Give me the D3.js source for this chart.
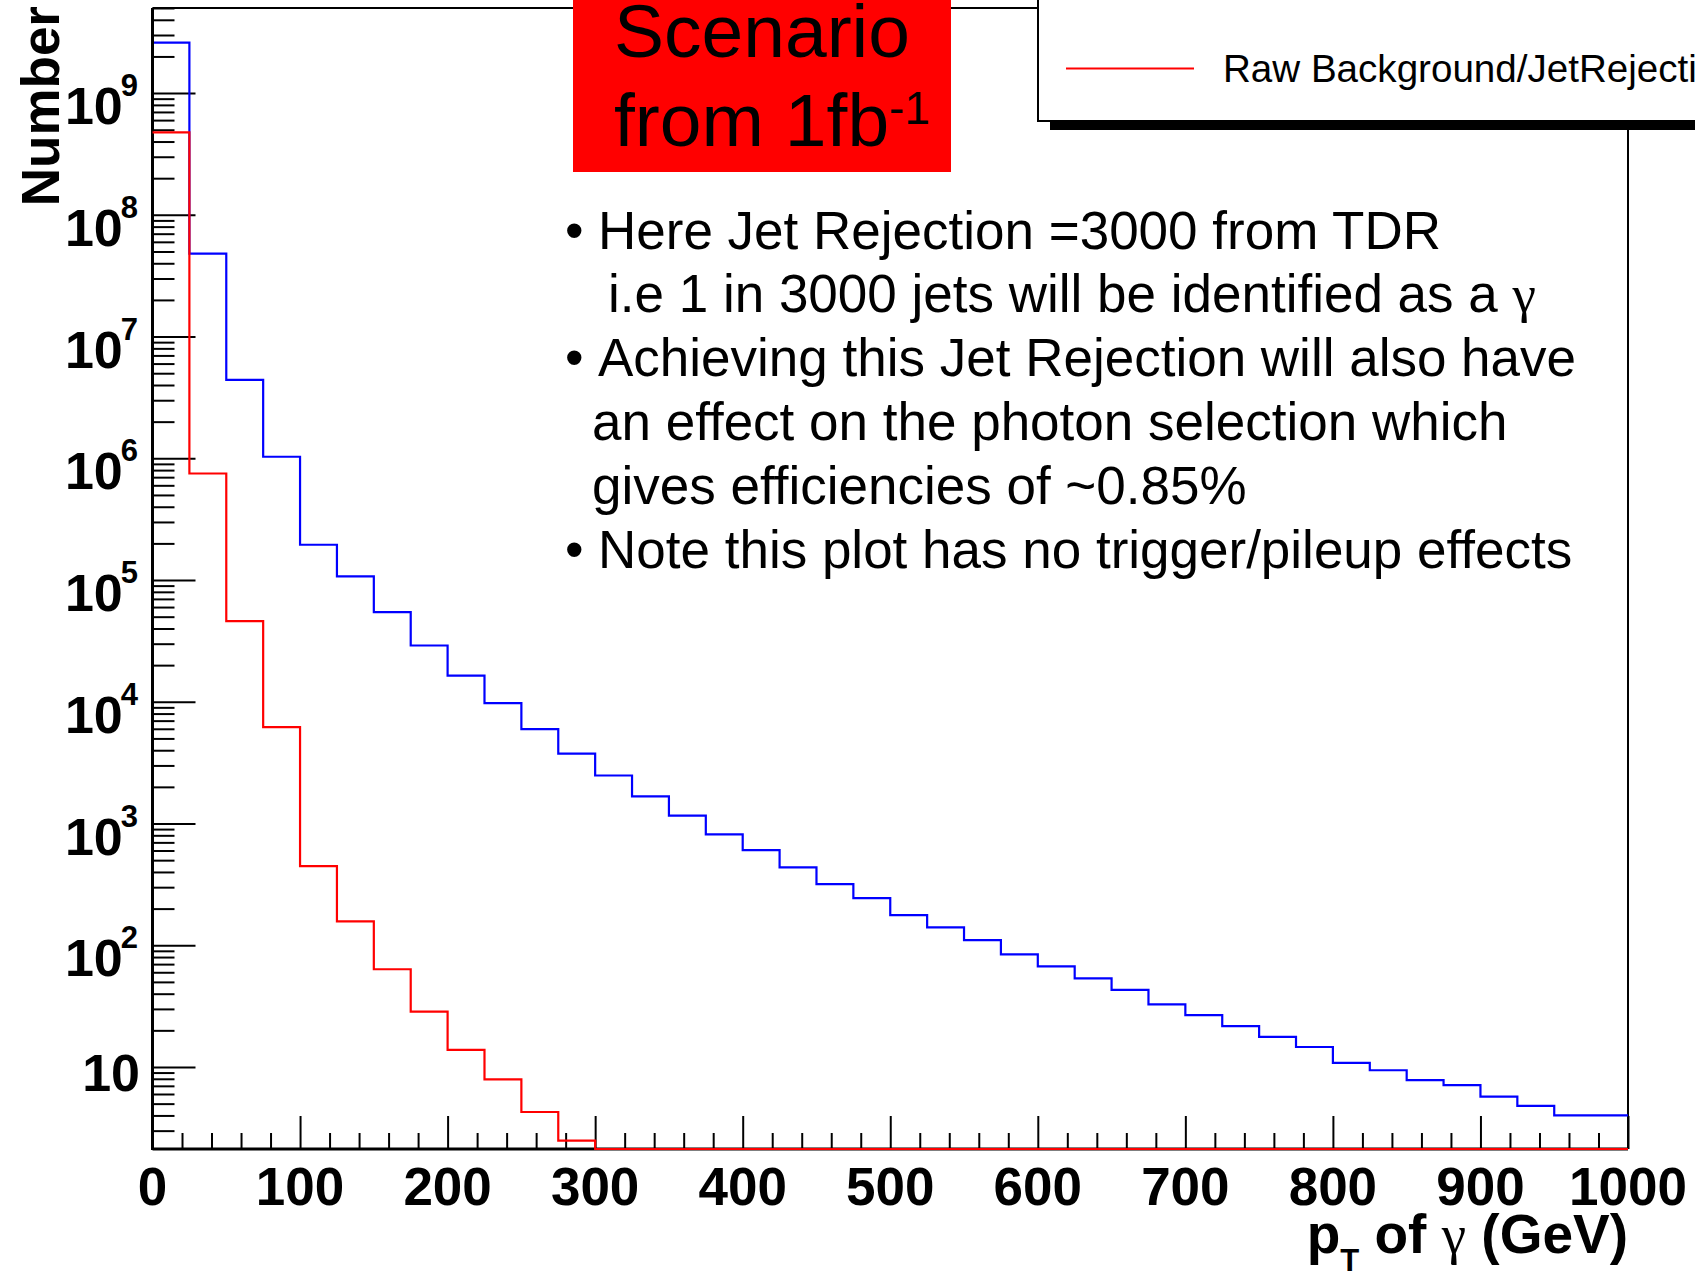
<!DOCTYPE html>
<html>
<head>
<meta charset="utf-8">
<script src="https://cdn.jsdelivr.net/npm/d3@7/dist/d3.min.js"></script>
<style>
  body { margin: 0; background: #fff; }
  svg { display: block; font-family: "Liberation Sans", Arial, Helvetica, sans-serif; }
</style>
</head>
<body>
<svg id="canvas"></svg>
<script>
// bin low edges (GeV), 25 GeV bins
const binLow = [0, 25, 50, 75, 100, 125, 150, 175, 200, 225, 250, 275, 300, 325, 350, 375, 400, 425, 450, 475,
                500, 525, 550, 575, 600, 625, 650, 675, 700, 725, 750, 775, 800, 825, 850, 875, 900, 925, 950, 975]
const binHigh = 1000

// blue histogram
const rawCounts = [2.6e9, 4.8e7, 4.4e6, 1.03e6, 1.95e5, 1.07e5, 5.45e4, 2.9e4, 1.64e4, 9.75e3,
                   5.96e3, 3.75e3, 2.48e3, 1.67e3, 1.16e3, 815, 604, 437, 318, 244,
                   177, 140, 110, 84, 67, 53.5, 43, 32.7, 26.7, 21.7,
                   17.7, 14.6, 10.8, 9.4, 7.8, 7.1, 5.7, 4.8, 4.0, 4.0]

// red histogram: Raw Background/JetRejection
const rejectedCounts = [4.75e8, 7.5e5, 4.6e4, 6.2e3, 446, 157, 63.5, 28.5, 13.8, 7.9,
                        4.27, 2.48, 0, 0, 0, 0, 0, 0, 0, 0,
                        0, 0, 0, 0, 0, 0, 0, 0, 0, 0,
                        0, 0, 0, 0, 0, 0, 0, 0, 0, 0]

const xTickValues = [0, 100, 200, 300, 400, 500, 600, 700, 800, 900, 1000]
const yDecades = [10, 1e2, 1e3, 1e4, 1e5, 1e6, 1e7, 1e8, 1e9]
const yExponents = ['', '2', '3', '4', '5', '6', '7', '8', '9']

const legendLabel = 'Raw Background/JetRejection'
const noteLines = [
  {bullet: true, text: 'Here Jet Rejection =3000 from TDR'},
  {bullet: false, text: 'i.e 1 in 3000 jets will be identified as a ', gamma: true},
  {bullet: true, text: 'Achieving this Jet Rejection will also have'},
  {bullet: false, text: 'an effect on the photon selection which'},
  {bullet: false, text: 'gives efficiencies of ~0.85%'},
  {bullet: true, text: 'Note this plot has no trigger/pileup effects'}
]

const width = 1695
const height = 1275
const frameLeft = 152.5, frameRight = 1628, frameTop = 8, frameBottom = 1149
const yMin = 2.12, yMax = 5.0e9

let canvas = d3.select('#canvas').attr('width', width).attr('height', height)
canvas.append('rect').attr('width', width).attr('height', height).attr('fill', '#fff')

let xScale = d3.scaleLinear().domain([0, 1000]).range([frameLeft, frameRight])
let yScale = d3.scaleLog().domain([yMin, yMax]).range([frameBottom, frameTop])

// frame (top and right thin lines)
canvas.append('path')
  .attr('d', `M${frameLeft},${frameTop}H${frameRight}V${frameBottom}`)
  .attr('fill', 'none').attr('stroke', '#000').attr('stroke-width', 2)

// histograms
let stepLine = d3.line()
  .x(d => xScale(d[0]))
  .y(d => yScale(Math.max(d[1], yMin)))
  .curve(d3.curveStepAfter)

let drawHist = (counts, colour) => {
  let pts = binLow.map((b, i) => [b, counts[i]])
  pts.push([binHigh, counts[counts.length - 1]])
  canvas.append('path')
    .attr('d', stepLine(pts))
    .attr('fill', 'none')
    .attr('stroke', colour)
    .attr('stroke-width', 2.2)
}

// x axis ticks (major every 100, minor every 20)
let xMinor = xTickValues.slice(0, -1).flatMap(v => [20, 40, 60, 80].map(s => v + s))
canvas.append('g')
  .attr('transform', `translate(0,${frameBottom})`)
  .call(d3.axisBottom(xScale).tickValues(xMinor).tickSize(-16).tickFormat(''))
  .call(g => g.select('.domain').remove())
  .call(g => g.selectAll('line').attr('stroke-width', 2))
canvas.append('g')
  .attr('transform', `translate(0,${frameBottom})`)
  .call(d3.axisBottom(xScale).tickValues(xTickValues).tickSize(-33).tickFormat(''))
  .call(g => g.select('.domain').remove())
  .call(g => g.selectAll('line').attr('stroke-width', 2))

canvas.append('g').selectAll('text')
  .data(xTickValues)
  .enter()
  .append('text')
  .attr('x', d => xScale(d))
  .attr('y', 1205)
  .attr('text-anchor', 'middle')
  .attr('font-weight', 'bold')
  .attr('font-size', 53)
  .text(d => d)

// y axis ticks
let yMinor = [1, ...yDecades].flatMap(d => [2, 3, 4, 5, 6, 7, 8, 9].map(m => m * d))
  .filter(v => v >= yMin && v <= yMax)
canvas.append('g')
  .attr('transform', `translate(${frameLeft},0)`)
  .call(d3.axisLeft(yScale).tickValues(yMinor).tickSize(-22).tickFormat(''))
  .call(g => g.select('.domain').remove())
  .call(g => g.selectAll('line').attr('stroke-width', 2))
canvas.append('g')
  .attr('transform', `translate(${frameLeft},0)`)
  .call(d3.axisLeft(yScale).tickValues(yDecades).tickSize(-43).tickFormat(''))
  .call(g => g.select('.domain').remove())
  .call(g => g.selectAll('line').attr('stroke-width', 2))

let yLabels = canvas.append('g').selectAll('text')
  .data(yDecades)
  .enter()
  .append('text')
  .attr('x', (d, i) => i === 0 ? 140 : 138)
  .attr('y', (d, i) => yScale(d) + (i === 0 ? 24 : 31))
  .attr('text-anchor', 'end')
  .attr('font-weight', 'bold')
  .attr('font-size', 52)
yLabels.append('tspan').text('10')
yLabels.filter((d, i) => i > 0)
  .append('tspan')
  .attr('dy', -28)
  .attr('dx', -2)
  .attr('font-size', 31)
  .text(d => yExponents[yDecades.indexOf(d)])

drawHist(rawCounts, '#0000ff')

// axis lines
canvas.append('line')
  .attr('x1', frameLeft).attr('x2', frameLeft).attr('y1', frameTop).attr('y2', frameBottom + 1)
  .attr('stroke', '#000').attr('stroke-width', 3)
canvas.append('line')
  .attr('x1', frameLeft).attr('x2', frameRight).attr('y1', frameBottom).attr('y2', frameBottom)
  .attr('stroke', '#000').attr('stroke-width', 3)

drawHist(rejectedCounts, '#ff0000')

// axis titles
canvas.append('text')
  .attr('transform', 'translate(59,6) rotate(-90)')
  .attr('text-anchor', 'end')
  .attr('font-weight', 'bold')
  .attr('font-size', 53)
  .text('Number')

let xTitle = canvas.append('text')
  .attr('x', frameRight)
  .attr('y', 1253)
  .attr('text-anchor', 'end')
  .attr('font-weight', 'bold')
  .attr('font-size', 55)
xTitle.append('tspan').text('p')
xTitle.append('tspan').attr('font-size', 31).attr('dy', 18).text('T')
xTitle.append('tspan').attr('dy', -18).text(' of ')
xTitle.append('tspan').attr('font-family', '"Liberation Serif", "Times New Roman", serif')
  .attr('font-weight', 'normal').text('γ')
xTitle.append('tspan').text(' (GeV)')

// red scenario box
canvas.append('rect')
  .attr('x', 573).attr('y', 0).attr('width', 378).attr('height', 172)
  .attr('fill', '#ff0000')
canvas.append('text')
  .attr('x', 762).attr('y', 57)
  .attr('text-anchor', 'middle').attr('font-size', 75)
  .text('Scenario')
let fromText = canvas.append('text')
  .attr('x', 614).attr('y', 146)
  .attr('font-size', 75)
fromText.append('tspan').text('from 1fb')
fromText.append('tspan').attr('font-size', 46).attr('dy', -22).text('-1')

// legend
canvas.append('rect')
  .attr('x', 1050).attr('y', 121).attr('width', width - 1050).attr('height', 9)
  .attr('fill', '#000')
canvas.append('rect')
  .attr('x', 1038).attr('y', -2).attr('width', width).attr('height', 123)
  .attr('fill', '#fff').attr('stroke', '#000').attr('stroke-width', 2)
canvas.append('line')
  .attr('x1', 1066).attr('x2', 1194).attr('y1', 68.5).attr('y2', 68.5)
  .attr('stroke', '#ff0000').attr('stroke-width', 2.2)
canvas.append('text')
  .attr('x', 1223).attr('y', 82)
  .attr('font-size', 38.6)
  .text(legendLabel)

// notes
let notes = canvas.append('g').attr('font-size', 53)
noteLines.forEach((line, i) => {
  let yPos = 248.5 + i * 63.8
  if (line.bullet) {
    notes.append('text').attr('x', 565).attr('y', yPos).text('•')
  }
  let t = notes.append('text')
    .attr('x', line.bullet ? 598 : (line.gamma ? 608 : 592))
    .attr('y', yPos)
  t.append('tspan').text(line.text)
  if (line.gamma) {
    t.append('tspan').attr('font-family', '"Liberation Serif", "Times New Roman", serif').text('γ')
  }
})
</script>
</body>
</html>
